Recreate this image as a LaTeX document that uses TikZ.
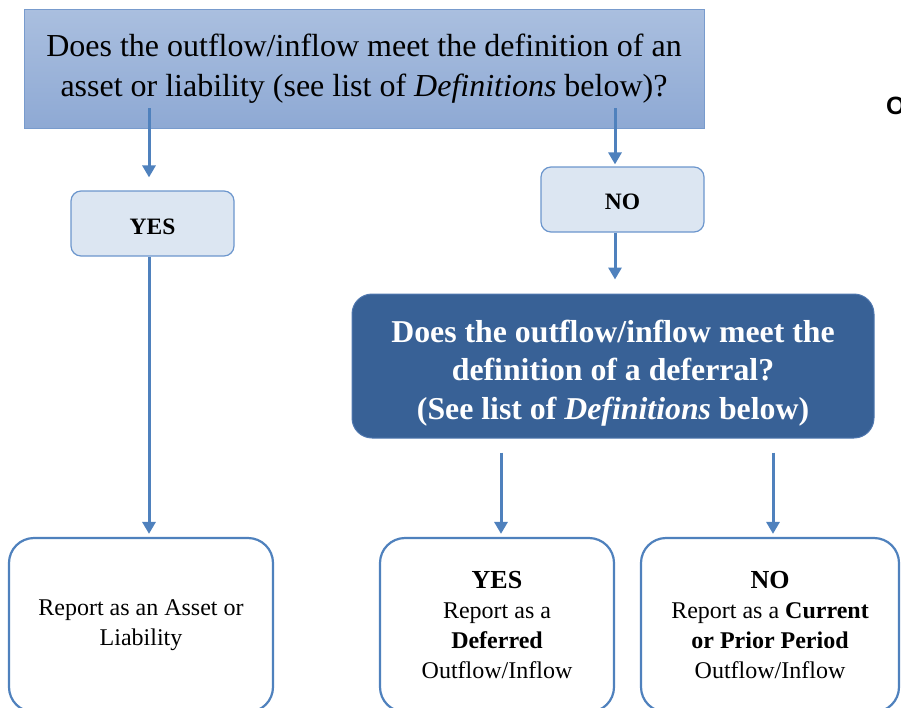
\documentclass[tikz,border=0pt]{standalone}
\usepackage{fontspec}
\setmainfont{Liberation Serif}
\newfontfamily\arialfont{Liberation Sans}
\usetikzlibrary{arrows.meta}
\definecolor{arrblue}{RGB}{79,129,189}
\definecolor{toptop}{RGB}{170,191,223}
\definecolor{topbot}{RGB}{142,169,212}
\definecolor{topedge}{RGB}{120,155,205}
\definecolor{lightfill}{RGB}{220,230,242}
\definecolor{lightedge}{RGB}{108,150,205}
\definecolor{darkfill}{RGB}{56,97,150}
\definecolor{darkedge}{RGB}{80,120,175}
\tikzset{
  topbox/.style={draw=topedge, line width=1pt, top color=toptop, bottom color=topbot,
    minimum width=680pt, minimum height=119pt, inner sep=0pt, align=center,
    font=\fontsize{32}{40}\selectfont},
  smallbox/.style={draw=lightedge, line width=1.2pt, fill=lightfill, rounded corners=10pt,
    minimum width=163pt, minimum height=65pt, inner sep=0pt, align=center,
    font=\fontsize{23.5}{26}\selectfont\bfseries},
  darkbox/.style={draw=darkedge, line width=1pt, fill=darkfill, rounded corners=20pt,
    minimum width=522pt, minimum height=144pt, inner sep=0pt, align=center, text=white,
    font=\fontsize{31.8}{38.5}\selectfont\bfseries},
  resultbox/.style={draw=arrblue, line width=2.2pt, fill=white, rounded corners=25pt,
    minimum height=174pt, inner sep=0pt, align=center,
    font=\fontsize{24}{30}\selectfont},
  arr/.style={draw=arrblue, line width=3pt, -{Triangle[width=13pt,length=12pt]}},
}
\begin{document}
\begin{tikzpicture}[x=1pt,y=-1pt]
\useasboundingbox (0,0) rectangle (901,707);
\clip (0,0) rectangle (901,707);

\node[topbox] (q1) at (364,68.5) {Does the outflow/inflow meet the definition of an\\asset or liability (see list of \textit{Definitions} below)?};

\node[anchor=west, inner sep=0pt, font=\arialfont\bfseries\fontsize{25}{25}\selectfont] (ocut) at (886,106) {O};

\node[smallbox] (yes) at (152.5,223.5) {\raisebox{-3pt}[\height][\depth]{YES}};
\node[smallbox] (no) at (622.5,199.5) {\raisebox{-2.5pt}[\height][\depth]{NO}};

\node[darkbox] (q2) at (613,366) {\raisebox{-7pt}[\height][\depth]{\begin{tabular}{@{}c@{}}Does the outflow/inflow meet the\\definition of a deferral?\\(See list of \textit{Definitions} below)\end{tabular}}};

\node[resultbox, minimum width=264pt] (resA) at (141,625) {Report as an Asset or\\Liability};
\node[resultbox, minimum width=234pt] (resD) at (497,625) {{\fontsize{26}{30}\selectfont\textbf{YES}}\\Report as a\\\textbf{Deferred}\\Outflow/Inflow};
\node[resultbox, minimum width=258pt] (resC) at (770,625) {{\fontsize{26}{30}\selectfont\textbf{NO}}\\Report as a \textbf{Current}\\\textbf{or Prior Period}\\Outflow/Inflow};

\coordinate (c1) at (149,108);
\coordinate (c2) at (615,108);
\coordinate (c5) at (501,0);
\coordinate (c6) at (773,0);

\draw[arr, shorten >=13pt] (c1) -- (c1 |- yes.north);
\draw[arr, shorten >=2pt] (c2) -- (c2 |- no.north);
\draw[arr, shorten >=3pt] (c1 |- yes.south) -- (c1 |- resA.north);
\draw[arr, shorten >=14pt] (c2 |- no.south) -- (c2 |- q2.north);
\draw[arr, shorten <=14pt, shorten >=3pt] (c5 |- q2.south) -- (c5 |- resD.north);
\draw[arr, shorten <=14pt, shorten >=3pt] (c6 |- q2.south) -- (c6 |- resC.north);
\end{tikzpicture}
\end{document}
